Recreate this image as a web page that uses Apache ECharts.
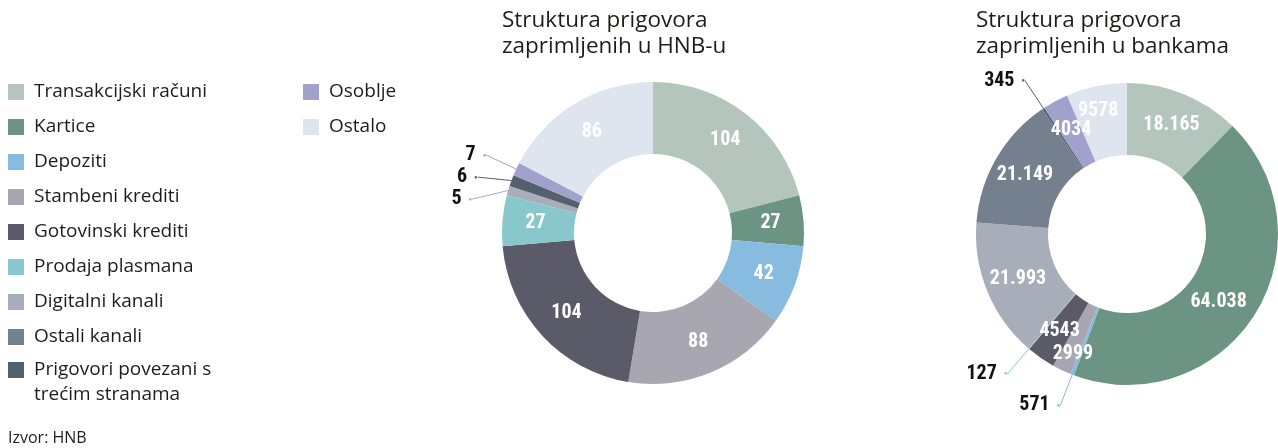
<!DOCTYPE html>
<html>
<head>
<meta charset="utf-8">
<script src="https://cdn.jsdelivr.net/npm/echarts@6/dist/echarts.min.js"></script>
<style>
  html, body { margin: 0; padding: 0; background: #fff; }
  #chart { width: 1278px; height: 448px; }
</style>
</head>
<body>
<div id="chart"></div>
<script>
// Complaint categories (shared by both donuts and the legend)
const categories = [
  'Transakcijski računi',
  'Kartice',
  'Depoziti',
  'Stambeni krediti',
  'Gotovinski krediti',
  'Prodaja plasmana',
  'Digitalni kanali',
  'Ostali kanali',
  'Prigovori povezani s trećim stranama',
  'Osoblje',
  'Ostalo'
];
const categoryColors = [
  '#b4c6bb', '#6c9482', '#87bbdf', '#a8a6b0', '#5b5a69', '#88c8cc',
  '#a7aeb9', '#75808f', '#55606f', '#a1a2cb', '#dee5ee'
];
// Complaints received by HNB (no "Ostali kanali" complaints)
const hnbValues = [104, 27, 42, 88, 104, 27, 5, 0, 6, 7, 86];
// Complaints received by banks
const bankValues = [18165, 64038, 571, 2999, 4543, 127, 21993, 21149, 345, 4034, 9578];

const titleHnb = 'Struktura prigovora\nzaprimljenih u HNB-u';
const titleBanks = 'Struktura prigovora\nzaprimljenih u bankama';
const sourceText = 'Izvor: HNB';
const twoLineName = 'Prigovori povezani s trećim stranama';
// leading blank line keeps the first text line level with the swatch
const twoLineText = '\nPrigovori povezani s\ntrećim stranama';

const textFont = '"Open Sans", "Noto Sans", sans-serif';
const numFont = '"Roboto Condensed", Roboto, sans-serif';
const numWeight = 'bold condensed';
const numSize = 20;

// Croatian style: thousands separator only for five-digit numbers and up
function fmt(v) {
  return v >= 10000 ? String(v).replace(/\B(?=(\d{3})+(?!\d))/g, '.') : String(v);
}

function buildData(values) {
  const total = values.reduce((a, b) => a + b, 0);
  return categories
    .map((name, i) => ({ name, value: values[i], color: categoryColors[i] }))
    .filter(d => d.value > 0)
    .map(d => {
      const item = { name: d.name, value: d.value, itemStyle: { color: d.color } };
      if (d.value / total < 0.015) {
        // thin slices: dark value outside, on a short leader line ending in a dot
        item.label = {
          position: 'outside',
          distanceToLabelLine: 0,
          formatter: '{v|' + fmt(d.value) + '}{d|●}',
          rich: {
            v: { color: '#111', fontFamily: numFont, fontWeight: numWeight, fontSize: numSize },
            d: { color: d.color, fontSize: 6, padding: [0, 0, 0, 7] }
          }
        };
        item.labelLine = { show: true, length: 33, length2: 0, lineStyle: { width: 1 } };
      }
      return item;
    });
}

function pieSeries(name, center, values, nudges) {
  const data = buildData(values);
  return {
    name,
    type: 'pie',
    center,
    radius: [79, 151],
    startAngle: 90,
    clockwise: true,
    avoidLabelOverlap: true,
    itemStyle: { borderWidth: 0 },
    emphasis: { scale: false },
    // a few crowded inside labels are shifted slightly off the ring's mid-line
    labelLayout: params => {
      const shift = nudges && nudges[data[params.dataIndex].name];
      return shift ? { dx: shift[0], dy: shift[1], hideOverlap: false } : { hideOverlap: false };
    },
    label: {
      show: true,
      position: 'inside',
      color: '#fff',
      fontFamily: numFont,
      fontWeight: numWeight,
      fontSize: numSize,
      formatter: p => fmt(p.value)
    },
    labelLine: { show: false },
    data
  };
}

const legendText = {
  fontFamily: textFont,
  fontSize: 19,
  color: '#1d1d1b',
  lineHeight: 25,
  padding: [0, 0, 0, 5]
};
const legendBase = {
  orient: 'vertical',
  padding: 0,
  icon: 'rect',
  itemWidth: 16,
  itemHeight: 16,
  itemGap: 10,
  textStyle: legendText,
  selectedMode: false
};

const chart = echarts.init(document.getElementById('chart'), null, { renderer: 'canvas' });
chart.setOption({
  animation: false,
  color: categoryColors,
  title: [
    {
      text: titleHnb, left: 497, top: 3,
      textStyle: { fontFamily: textFont, fontSize: 22.5, fontWeight: 'normal', color: '#1d1d1b', lineHeight: 26 }
    },
    {
      text: titleBanks, left: 971, top: 3,
      textStyle: { fontFamily: textFont, fontSize: 22.5, fontWeight: 'normal', color: '#1d1d1b', lineHeight: 26 }
    },
    {
      text: sourceText, left: 8, top: 428, padding: 0,
      textStyle: { fontFamily: textFont, fontSize: 16, fontWeight: 'normal', color: '#1d1d1b', lineHeight: 20 }
    }
  ],
  legend: [
    Object.assign({}, legendBase, {
      left: 8,
      top: 79.5,
      data: categories.slice(0, 8)
    }),
    Object.assign({}, legendBase, {
      left: 8,
      top: 332.5,
      data: [twoLineName],
      formatter: name => (name === twoLineName ? twoLineText : name)
    }),
    Object.assign({}, legendBase, {
      left: 303,
      top: 79.5,
      data: categories.slice(9)
    })
  ],
  series: [
    pieSeries('HNB', [653, 233], hnbValues, null),
    pieSeries('Banke', [1127, 234], bankValues, {
      'Kartice': [-8, 5],
      'Stambeni krediti': [-3, 14],
      'Ostalo': [-5, -7]
    })
  ]
});
</script>
</body>
</html>
